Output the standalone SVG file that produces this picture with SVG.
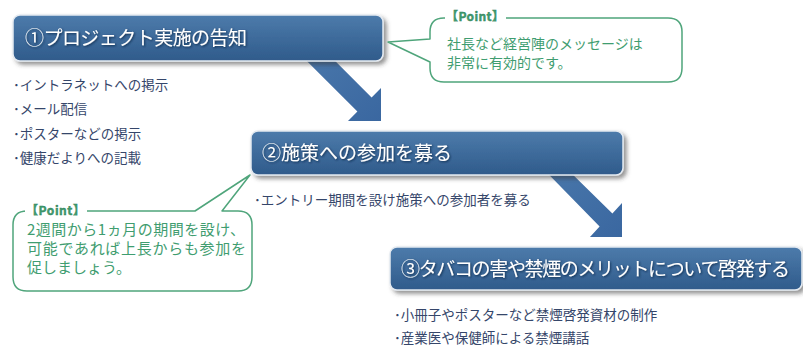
<svg xmlns="http://www.w3.org/2000/svg" width="803" height="347" viewBox="0 0 803 347">
<defs>
<linearGradient id="boxg" x1="0" y1="0" x2="0" y2="1">
<stop offset="0" stop-color="#4d7bab"/>
<stop offset="1" stop-color="#2f5b8b"/>
</linearGradient>
<linearGradient id="arrg" x1="0" y1="0" x2="1" y2="1">
<stop offset="0" stop-color="#4a78ab"/>
<stop offset="1" stop-color="#3a67a0"/>
</linearGradient>
<filter id="sh" x="-5%" y="-20%" width="115%" height="160%">
<feDropShadow dx="3" dy="3" stdDeviation="2" flood-color="#3a3a3a" flood-opacity="0.55"/>
</filter>
<filter id="tsh" x="-5%" y="-30%" width="110%" height="160%">
<feDropShadow dx="1" dy="1" stdDeviation="0.8" flood-color="#0d2340" flood-opacity="0.8"/>
</filter>
</defs>
<style>
.box{fill:url(#boxg);stroke:#e4eaf1;stroke-width:1.5;filter:url(#sh)}
.btxt{fill:#ffffff;font-family:"Noto Sans CJK JP","Noto Sans",sans-serif;font-size:19px;font-weight:400;filter:url(#tsh)}
.bul{fill:#35466a;font-family:"Noto Sans CJK JP","Noto Sans",sans-serif;font-size:13.5px}
.arr{fill:url(#arrg)}
.bub{fill:#ffffff;stroke:#4fa57b;stroke-width:1.5;stroke-linejoin:round}
.ctxt{fill:#3f9d70;font-family:"Noto Sans CJK JP","Noto Sans",sans-serif}
.pt{fill:#3f9d70;font-family:"Noto Sans CJK JP","Liberation Sans",sans-serif;font-size:12px;font-weight:700;stroke:#2f7d55;stroke-width:0.4}
</style>
<rect width="803" height="347" fill="#ffffff"/>

<g id="connectors">
<polygon class="arr" points="295.8,50 324.2,50 371.6,97.4 381,88 381,121 348,121 357.4,111.6"/>
<polygon class="arr" points="539.5,165 563,165 612.4,213.6 622,203 622,237 590,237 599.6,226.4"/>
</g>

<g id="node1">
<rect class="box" x="13" y="15" width="370" height="46" rx="7"/>
<text class="btxt" x="25" y="45" textLength="222">①プロジェクト実施の告知</text>
<text class="bul" x="13" y="90">･イントラネットへの掲示</text>
<text class="bul" x="13" y="114">･メール配信</text>
<text class="bul" x="13" y="139">･ポスターなどの掲示</text>
<text class="bul" x="13" y="163">･健康だよりへの記載</text>
</g>

<g id="node2">
<rect class="box" x="251" y="131" width="372" height="44" rx="7"/>
<text class="btxt" x="262" y="160" textLength="190">②施策への参加を募る</text>
<text class="bul" x="254" y="205">･エントリー期間を設け施策への参加者を募る</text>
</g>

<g id="node3">
<rect class="box" x="390" y="247" width="412" height="43" rx="7"/>
<text class="btxt" x="401" y="276" textLength="389">③タバコの害や禁煙のメリットについて啓発する</text>
<text class="bul" x="394" y="320">･小冊子やポスターなど禁煙啓発資材の制作</text>
<text class="bul" x="394" y="343">･産業医や保健師による禁煙講話</text>
</g>

<g id="callout1">
<path class="bub" d="M 444 18 H 668 Q 682 18 682 32 V 68 Q 682 82 668 82 H 444 Q 430 82 430 68 V 62 L 388 42 L 430 39 V 32 Q 430 18 444 18 Z"/>
<rect x="445" y="10" width="61" height="15" fill="#ffffff"/>
<text class="pt" x="446" y="21" textLength="58">【Point】</text>
<text class="ctxt" x="447" y="49" font-size="14">社長など経営陣のメッセージは</text>
<text class="ctxt" x="447" y="68" font-size="14">非常に有効的です。</text>
</g>

<g id="callout2">
<path class="bub" d="M 27 211 H 195 L 250 175 L 222 211 H 238 Q 252 211 252 225 V 277 Q 252 291 238 291 H 27 Q 13 291 13 277 V 225 Q 13 211 27 211 Z"/>
<rect x="25" y="203" width="62" height="15" fill="#ffffff"/>
<text class="pt" x="26" y="215" textLength="59">【Point】</text>
<text class="ctxt" x="27" y="235" font-size="15" textLength="218">2週間から1ヵ月の期間を設け、</text>
<text class="ctxt" x="27" y="254" font-size="15" textLength="219">可能であれば上長からも参加を</text>
<text class="ctxt" x="27" y="273" font-size="15">促しましょう。</text>
</g>
</svg>
